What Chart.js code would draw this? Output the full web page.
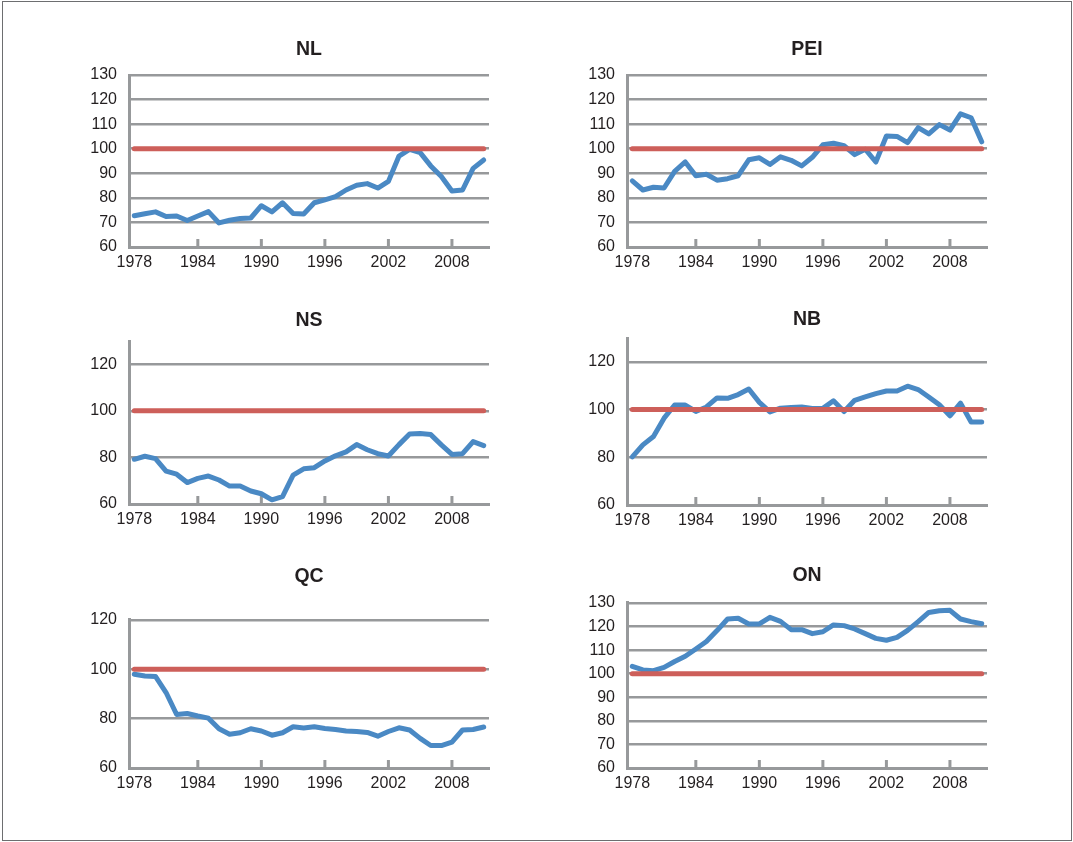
<!DOCTYPE html>
<html>
<head>
<meta charset="utf-8">
<title>Provincial index vs. national level, 1978–2011</title>
<script src="https://cdn.jsdelivr.net/npm/chart.js@4.4.1/dist/chart.umd.min.js"></script>
<style>
  html, body { margin: 0; padding: 0; background: #ffffff; }
  body { position: relative; width: 1073px; height: 842px; overflow: hidden; }
  #frame { position: absolute; left: 2px; top: 1px; width: 1070px; height: 840px;
           border: 1px solid #6d6e70; box-sizing: border-box; }
  canvas { position: absolute; }
</style>
</head>
<body>
<div id="frame"></div>
<script>
// Years on the category axis
const years = ['1978','1979','1980','1981','1982','1983','1984','1985','1986','1987',
               '1988','1989','1990','1991','1992','1993','1994','1995','1996','1997',
               '1998','1999','2000','2001','2002','2003','2004','2005','2006','2007',
               '2008','2009','2010','2011'];
// Years that carry a label and a tick mark
const tickYears = ['1978','1984','1990','1996','2002','2008'];

// Value-axis tick sets
const ticksBy10 = [60, 70, 80, 90, 100, 110, 120, 130];
const ticksBy20 = [60, 80, 100, 120];

// National level (= 100)
const national = [100,100,100,100,100,100,100,100,100,100,100,100,100,100,100,100,100,
                  100,100,100,100,100,100,100,100,100,100,100,100,100,100,100,100,100];

// Provincial series
const nl  = [72.7, 73.5, 74.3, 72.4, 72.6, 70.8, 72.6, 74.4, 69.8, 70.9, 71.6, 71.8,
             76.8, 74.3, 78.0, 73.6, 73.4, 78.0, 79.2, 80.5, 83.2, 85.1, 85.8, 84.0,
             86.7, 97.0, 99.7, 98.4, 93.0, 88.7, 82.8, 83.2, 92.0, 95.4];
const pei = [86.9, 83.2, 84.3, 84.0, 90.8, 94.6, 89.0, 89.6, 87.2, 87.8, 89.0, 95.5,
             96.3, 93.6, 96.7, 95.3, 93.0, 96.5, 101.6, 102.2, 101.2, 97.6, 99.8, 94.6,
             105.2, 105.0, 102.5, 108.6, 106.0, 109.8, 107.6, 114.2, 112.6, 102.8];
const ns  = [79.2, 80.5, 79.5, 74.1, 72.8, 69.2, 71.0, 72.0, 70.3, 67.7, 67.7, 65.6,
             64.4, 61.8, 63.2, 72.4, 75.1, 75.6, 78.5, 80.7, 82.4, 85.5, 83.3, 81.6,
             80.6, 85.5, 90.1, 90.3, 89.8, 85.4, 81.3, 81.6, 86.8, 85.1];
const nb  = [80.2, 85.2, 88.7, 96.4, 101.9, 101.9, 99.2, 101.1, 104.9, 104.7, 106.3, 108.6,
             103.0, 99.0, 100.6, 100.9, 101.1, 100.5, 100.5, 103.7, 99.2, 103.9, 105.3, 106.7,
             107.8, 107.8, 109.8, 108.4, 105.3, 102.0, 97.4, 102.7, 94.8, 94.8];
const qc  = [98.0, 97.3, 97.1, 90.6, 81.7, 82.1, 81.1, 80.2, 75.9, 73.7, 74.3, 75.9,
             75.0, 73.3, 74.3, 76.7, 76.2, 76.7, 76.0, 75.6, 75.0, 74.8, 74.4, 72.9,
             74.8, 76.3, 75.4, 72.0, 69.1, 69.1, 70.5, 75.4, 75.6, 76.6];
const on  = [103.1, 101.6, 101.3, 102.7, 105.2, 107.4, 110.5, 113.7, 118.3, 123.2, 123.5, 121.1,
             121.1, 123.9, 122.2, 118.7, 118.7, 117.0, 117.8, 120.7, 120.4, 119.0, 117.0, 115.0,
             114.2, 115.4, 118.4, 122.1, 126.0, 126.7, 126.9, 123.2, 122.1, 121.2];

// Styling
const GRID = '#97999b';
const TEXT = '#231f20';
const BLUE = '#4a89c4';
const RED  = '#cd5f5a';
const FONT = 'Liberation Sans, Arial, Helvetica, sans-serif';
const LABEL_SIZE = 16;

const AXIS_W = 60;     // width reserved for value labels
const XAXIS_H = 30;    // height reserved for year labels
const RIGHT_PAD = 12;
const TITLE_SIZE = 19.5;
const TITLE_LH = 1.2;
const TITLE_ABOVE = 25;

// Short tick marks rising from the year axis at labelled years
const innerTicks = {
  id: 'innerTicks',
  beforeDatasetsDraw(chart) {
    const xs = chart.scales.x;
    const ctx = chart.ctx;
    const bottom = chart.chartArea.bottom;
    ctx.save();
    ctx.strokeStyle = GRID;
    ctx.lineWidth = 3;
    chart.data.labels.forEach((lab, i) => {
      if (i === 0 || !tickYears.includes(lab)) return;
      const px = xs.getPixelForValue(i);
      ctx.beginPath();
      ctx.moveTo(px, bottom);
      ctx.lineTo(px, bottom - 8);
      ctx.stroke();
    });
    ctx.restore();
  }
};

function panel(title, values, yMax, yTicks, area, titleY) {
  const left = area.left - AXIS_W;
  const top = titleY - TITLE_ABOVE;
  const w = area.right - area.left + AXIS_W + RIGHT_PAD;
  const h = area.bottom - top + XAXIS_H;
  const half = TITLE_SIZE * TITLE_LH / 2;

  const c = document.createElement('canvas');
  c.width = w; c.height = h;
  c.style.left = left + 'px'; c.style.top = top + 'px';
  c.style.width = w + 'px'; c.style.height = h + 'px';
  document.body.appendChild(c);

  new Chart(c, {
    type: 'line',
    data: {
      labels: years,
      datasets: [
        { label: 'Canada = 100', data: national, borderColor: RED, borderWidth: 5,
          pointRadius: 0, tension: 0, borderCapStyle: 'round', borderJoinStyle: 'round', fill: false },
        { label: title, data: values, borderColor: BLUE, borderWidth: 5,
          pointRadius: 0, tension: 0, borderCapStyle: 'round', borderJoinStyle: 'round', fill: false }
      ]
    },
    options: {
      responsive: false,
      devicePixelRatio: 1,
      animation: false,
      events: [],
      layout: { padding: { left: 0, right: RIGHT_PAD, top: 0, bottom: 0 } },
      plugins: {
        legend: { display: false },
        tooltip: { enabled: false },
        title: {
          display: true, text: title, color: TEXT, fullSize: false,
          font: { family: FONT, size: TITLE_SIZE, weight: 'bold', lineHeight: TITLE_LH },
          padding: { top: TITLE_ABOVE - half, bottom: area.top - (titleY + half) }
        }
      },
      scales: {
        x: {
          type: 'category',
          offset: true,
          grid: { display: false },
          border: { display: true, color: GRID, width: 3 },
          ticks: {
            autoSkip: false, maxRotation: 0, minRotation: 0, padding: -2,
            color: TEXT, font: { family: FONT, size: LABEL_SIZE },
            callback(v) {
              const lab = this.getLabelForValue(v);
              return tickYears.includes(lab) ? lab : '';
            }
          },
          afterFit(s) { s.height = XAXIS_H; }
        },
        y: {
          min: 60, max: yMax,
          afterBuildTicks(s) { s.ticks = yTicks.map(v => ({ value: v })); },
          grid: { color: GRID, lineWidth: 2.5, drawTicks: false },
          border: { display: true, color: GRID, width: 3 },
          ticks: { padding: 12, color: TEXT, font: { family: FONT, size: LABEL_SIZE } },
          afterFit(s) { s.width = AXIS_W; }
        }
      }
    },
    plugins: [innerTicks]
  });
}

panel('NL',  nl,  130, ticksBy10, { left: 129, right: 489, top: 75,  bottom: 247 }, 50);
panel('PEI', pei, 130, ticksBy10, { left: 627, right: 987, top: 75,  bottom: 247 }, 50);
panel('NS',  ns,  130, ticksBy20, { left: 129, right: 489, top: 341, bottom: 504 }, 321);
panel('NB',  nb,  130, ticksBy20, { left: 627, right: 987, top: 338, bottom: 505 }, 320);
panel('QC',  qc,  120, ticksBy20, { left: 129, right: 489, top: 620, bottom: 768 }, 577);
panel('ON',  on,  130, ticksBy10, { left: 627, right: 987, top: 603, bottom: 768 }, 576);
</script>
</body>
</html>
